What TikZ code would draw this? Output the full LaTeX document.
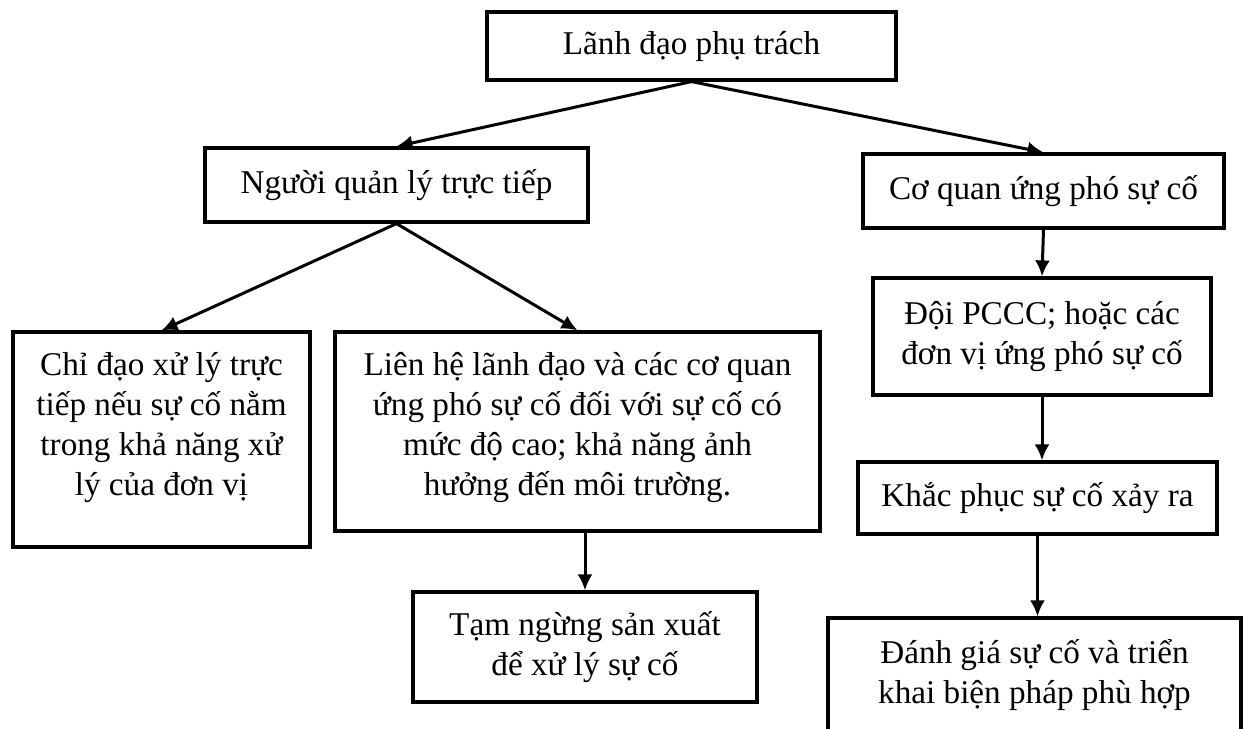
\documentclass[tikz,border=0pt]{standalone}
\usepackage{fontspec}
\setmainfont{Liberation Serif}
\usetikzlibrary{arrows.meta}

\begin{document}
\begin{tikzpicture}[x=0.5pt, y=-0.5pt]
    % ================= Kiểu dáng =================
    \tikzset{
        % khung chữ nhật
        boxnode/.style={draw=black, line width=1.6pt, fill=white, align=center, inner sep=2pt,
            font=\fontsize{16.6}{20}\selectfont},
        % mũi tên nối
        link/.style={line width=1.5pt, -{Latex[length=8pt, width=7.5pt]}}
    }
    \useasboundingbox[fill=white] (0,0) rectangle (1244,729);

    % ================= 1. Cấp trên =================
    \node[boxnode, minimum width=204.5pt, minimum height=34pt] (lanhdao) at (691.5, 46) {Lãnh đạo phụ trách};
    \node[boxnode, minimum width=191.5pt, minimum height=37pt] (nguoi) at (396.5, 185) {Người quản lý trực tiếp};
    \node[boxnode, minimum width=180.5pt, minimum height=37pt] (coquan) at (1043.5, 191) {Cơ quan ứng phó sự cố};

    % ================= 2. Nhánh trái =================
    \node[boxnode, minimum width=148.5pt, minimum height=107.5pt, text height=70pt, text depth=14.5pt] (chidao) at (161.5, 439.5)
        {Chỉ đạo xử lý trực\\ tiếp nếu sự cố nằm\\ trong khả năng xử\\ lý của đơn vị};
    \node[boxnode, minimum width=242.5pt, minimum height=99.5pt, text height=70pt, text depth=6.5pt] (lienhe) at (577.5, 431.5)
        {Liên hệ lãnh đạo và các cơ quan\\ ứng phó sự cố đối với sự cố có\\ mức độ cao; khả năng ảnh\\ hưởng đến môi trường.};
    \node[boxnode, minimum width=172pt, minimum height=55pt] (tam) at (585, 647)
        {Tạm ngừng sản xuất\\ để xử lý sự cố};

    % ================= 3. Nhánh phải =================
    \node[boxnode, minimum width=169pt, minimum height=58.5pt] (doi) at (1042, 336.5)
        {Đội PCCC; hoặc các\\ đơn vị ứng phó sự cố};
    \node[boxnode, minimum width=179.5pt, minimum height=36pt] (khac) at (1037.5, 498) {Khắc phục sự cố xảy ra};
    % khung cuối bị cắt ở mép dưới
    \node[boxnode, minimum width=206.5pt, minimum height=57pt] (danhgia) at (1034.5, 675)
        {Đánh giá sự cố và triển\\ khai biện pháp phù hợp};

    % ================= 4. Mũi tên =================
    \draw[link] (lanhdao.south) -- (nguoi.north);
    \draw[link] (lanhdao.south) -- (coquan.north);
    \draw[link] (nguoi.south) -- (chidao.north);
    \draw[link] (nguoi.south) -- (lienhe.north);
    \draw[link] (lienhe.south -| tam.north) -- (tam.north);
    \draw[link] (coquan.south) -- (doi.north);
    \draw[link] (doi.south) -- (doi.south |- khac.north);
    \draw[link] (khac.south) -- (khac.south |- danhgia.north);
\end{tikzpicture}
\end{document}
